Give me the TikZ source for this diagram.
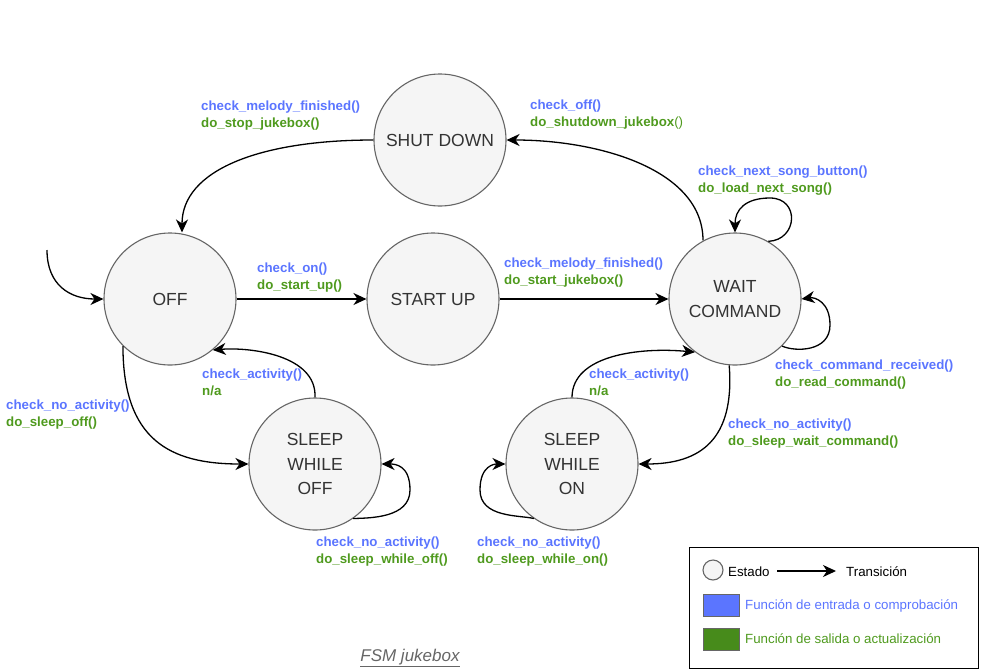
\documentclass[tikz,border=0pt]{standalone}
\usepackage{fontspec}
\setmainfont{Liberation Sans}
\usetikzlibrary{arrows.meta}
\definecolor{cblue}{HTML}{5B75FF}
\definecolor{cgreen}{HTML}{4F9A1E}
\definecolor{sfill}{HTML}{F5F5F5}
\definecolor{sdraw}{HTML}{666666}
\definecolor{stext}{HTML}{333333}
\tikzset{
  state/.style={circle, draw=sdraw, fill=sfill, line width=1.1pt, minimum size=132pt, inner sep=0pt, align=center, font=\fontsize{17.5}{24.5}\selectfont, text=stext},
  trans/.style={line width=1.3pt, -{Stealth[length=13pt,width=12pt,inset=4pt]}},
  lbl/.style={anchor=north west, align=left, inner sep=0pt, font=\fontsize{13.3}{17}\selectfont\bfseries},
  legtxt/.style={anchor=west, inner sep=0pt, font=\fontsize{13.3}{15}\selectfont},
}
\newcommand{\lb}[2]{\textcolor{cblue}{#1}\\\textcolor{cgreen}{#2}}
\begin{document}
\begin{tikzpicture}[x=1pt,y=-1pt]
\useasboundingbox (0,0) rectangle (988,670);
% states
\node[state] (off) at (170,299) {OFF};
\node[state] (shut) at (440,140) {SHUT DOWN};
\node[state] (start) at (433,299) {START UP};
\node[state] (wait) at (735,299) {WAIT\\COMMAND};
\node[state] (soff) at (315,464) {SLEEP\\WHILE\\OFF};
\node[state] (son) at (572,464) {SLEEP\\WHILE\\ON};
\coordinate (init) at (47,250);
% transitions
\draw[trans] (init) .. controls (47,285) and (70,299) .. (off.west);
\draw[trans] (off.east) -- (start.west);
\draw[trans] (start.east) -- (wait.west);
\draw[trans] (shut.west) .. controls (260,140) and (182,170) .. (off.north -| 182,0);
\draw[trans] (wait.north -| 703,0) ++(0,8) .. controls (703,170) and (600,140) .. (shut.east);
\draw[trans] (wait.60) .. controls (798,240) and (800,198) .. (770,198) .. controls (745,198) and (735,210) .. (wait.north);
\draw[trans] (wait.-45) .. controls (795,352) and (830,352) .. (830,325) .. controls (830,302) and (815,297) .. (wait.east);
\draw[trans] (wait.-95) .. controls (735,440) and (700,464) .. (son.east);
\draw[trans] (son.north) .. controls (572,355) and (640,347) .. (wait.-127);
\draw[trans] (son.-125) .. controls (520,515) and (480,518) .. (480,490) .. controls (480,465) and (495,464) .. (son.west);
\draw[trans] (off.-135) .. controls (123,440) and (170,464) .. (soff.west);
\draw[trans] (soff.north) .. controls (317,355) and (250,347) .. (off.-50);
\draw[trans] (soff.-55) .. controls (370,518) and (410,518) .. (410,490) .. controls (410,465) and (395,464) .. (soff.east);
% labels
\node[lbl] (l1) at (201,101) {\lb{check\_melody\_finished()}{do\_stop\_jukebox()}};
\node[lbl] (l2) at (530,100) {\lb{check\_off()}{do\_shutdown\_jukebox\mdseries()}};
\node[lbl] (l3) at (698,166) {\lb{check\_next\_song\_button()}{do\_load\_next\_song()}};
\node[lbl] (l4) at (257,263) {\lb{check\_on()}{do\_start\_up()}};
\node[lbl] (l5) at (504,258) {\lb{check\_melody\_finished()}{do\_start\_jukebox()}};
\node[lbl] (l6) at (775,360) {\lb{check\_command\_received()}{do\_read\_command()}};
\node[lbl] (l7) at (202,369) {\lb{check\_activity()}{n/a}};
\node[lbl] (l8) at (589,369) {\lb{check\_activity()}{n/a}};
\node[lbl] (l9) at (6,400) {\lb{check\_no\_activity()}{do\_sleep\_off()}};
\node[lbl] (l10) at (728,419) {\lb{check\_no\_activity()}{do\_sleep\_wait\_command()}};
\node[lbl] (l11) at (316,537) {\lb{check\_no\_activity()}{do\_sleep\_while\_off()}};
\node[lbl] (l12) at (477,537) {\lb{check\_no\_activity()}{do\_sleep\_while\_on()}};
% title
\node[font=\fontsize{17}{20}\selectfont\itshape, text=sdraw, inner sep=0pt] (title) at (410,658) {\underline{FSM jukebox}};
% legend
\node[draw=black, line width=1.3pt, minimum width=289pt, minimum height=121pt, anchor=north west, inner sep=0pt] (leg) at (689,547) {};
\node[circle, draw=sdraw, fill=sfill, line width=1.1pt, minimum size=20pt, inner sep=0pt] (lc) at (713,570) {};
\node[legtxt] (le) at (728,572) {Estado};
\coordinate (la1) at (777,571);
\coordinate (la2) at (836,571);
\draw[trans] (la1) -- (la2);
\node[legtxt] (lt) at (846,572) {Transición};
\node[draw=sdraw, fill=cblue, line width=1pt, minimum width=36pt, minimum height=22pt, inner sep=0pt] (rb) at (721,605) {};
\node[legtxt, text=cblue] (tb) at (745,606) {Función de entrada o comprobación};
\node[draw=sdraw, fill=cgreen!90!black, line width=1pt, minimum width=36pt, minimum height=22pt, inner sep=0pt] (rg) at (721,639) {};
\node[legtxt, text=cgreen] (tg) at (745,639) {Función de salida o actualización};
\end{tikzpicture}
\end{document}
